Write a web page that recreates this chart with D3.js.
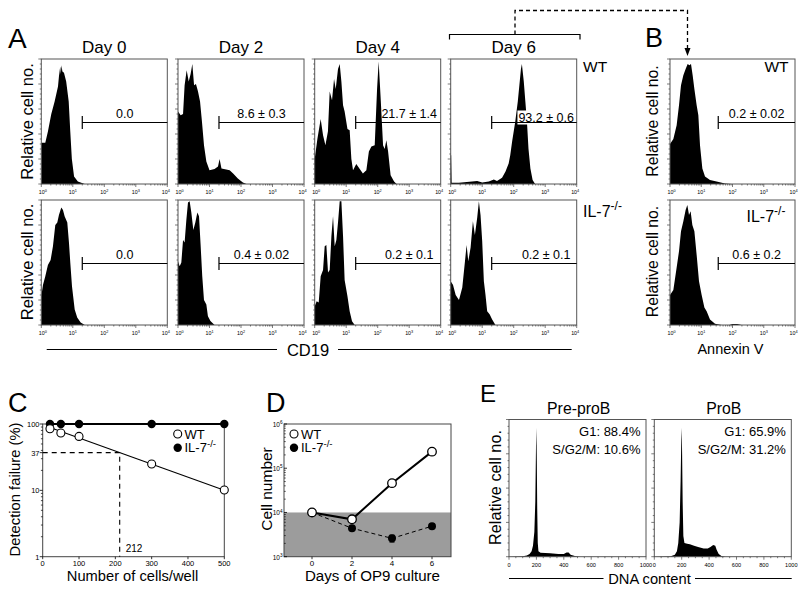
<!DOCTYPE html>
<html><head><meta charset="utf-8">
<script src="https://cdn.jsdelivr.net/npm/d3@7"></script>
<style>
body{margin:0;background:#fff}
svg{display:block}
text{font-family:"Liberation Sans",Arial,Helvetica,sans-serif;fill:#000}
</style>
</head><body>
<svg id="fig" width="800" height="591"></svg>
<script>
// ================= DATA =================
const cd19Days = ["Day 0", "Day 2", "Day 4", "Day 6"];
const cd19WtGates = ["0.0", "8.6 \u00b1 0.3", "21.7 \u00b1 1.4", "93.2 \u00b1 0.6"];
const cd19KoGates = ["0.0", "0.4 \u00b1 0.02", "0.2 \u00b1 0.1", "0.2 \u00b1 0.1"];
const annexinGates = ["0.2 \u00b1 0.02", "0.6 \u00b1 0.2"];
const cd19GateStart = 20;
const annexinGateStart = 35;
const logTicks = [1, 10, 100, 1000, 10000];

// Histograms: [log10 fluorescence, relative cell no. (% of max)]
const cd19WtDay0 = [[0,33],[0.127,33],[0.21,42],[0.317,56],[0.423,66],[0.53,78],[0.56,86],[0.6,94],[0.62,88],[0.64,95],[0.67,90],[0.72,89],[0.79,82],[0.87,66],[0.92,42],[0.97,20],[1.04,6],[1.16,2],[1.38,0]];
const cd19WtDay2 = [[0,58],[0.085,55],[0.16,56],[0.21,79],[0.275,91],[0.34,82],[0.4,88],[0.455,96],[0.51,79],[0.57,80],[0.635,74],[0.7,66],[0.76,50],[0.825,31],[0.9,18],[1.0,11],[1.16,12],[1.27,14],[1.32,20],[1.38,12.5],[1.53,11.7],[1.64,11],[1.75,8.5],[1.9,4.5],[2.06,1.3],[2.17,0]];
const cd19WtDay4 = [[0,20],[0.085,36],[0.19,52],[0.265,39],[0.34,31],[0.42,42],[0.476,74],[0.55,67],[0.614,84],[0.667,76],[0.74,92],[0.794,96],[0.847,82],[0.9,63],[0.95,58],[1.04,44],[1.11,43],[1.164,20],[1.217,11],[1.32,16],[1.43,12],[1.53,8.5],[1.64,11],[1.72,26],[1.8,30],[1.905,31],[1.98,76],[2.03,98],[2.095,68],[2.17,31],[2.22,28],[2.275,35],[2.33,26],[2.41,7],[2.52,2],[2.6,0]];
const cd19WtDay6 = [[0,23],[0.015,23],[0.03,1],[0.26,1],[0.68,2],[0.84,2.4],[1.0,1.3],[1.21,2],[1.37,3.7],[1.47,2.4],[1.63,5],[1.74,10],[1.84,16.5],[1.89,23],[1.95,34],[2.05,50],[2.13,66],[2.18,79],[2.23,92],[2.26,96],[2.32,82],[2.37,66],[2.42,50],[2.47,28],[2.53,12.5],[2.6,3.2],[2.68,0]];
const cd19KoDay0 = [[0,23],[0.053,32],[0.127,39],[0.21,48],[0.296,52],[0.37,63],[0.444,80],[0.508,82],[0.56,88],[0.635,94],[0.688,92],[0.74,87],[0.825,82],[0.878,66],[0.92,50],[0.974,31],[1.06,12.5],[1.14,6],[1.25,2],[1.38,0]];
const cd19KoDay2 = [[0,51],[0.053,47],[0.106,50],[0.16,68],[0.21,66],[0.265,84],[0.317,98],[0.37,99],[0.423,90],[0.487,76],[0.55,82],[0.614,90],[0.667,87],[0.72,63],[0.77,39],[0.825,20],[0.9,16.5],[0.95,7],[1.03,3.2],[1.16,0]];
const cd19KoDay4 = [[0,15],[0.063,19],[0.127,18],[0.19,39],[0.265,44],[0.317,63],[0.37,64],[0.423,42],[0.476,44],[0.53,71],[0.582,87],[0.635,63],[0.688,68],[0.74,82],[0.794,99],[0.847,99],[0.9,71],[0.95,36],[1.04,23],[1.11,11],[1.185,3],[1.27,0]];
const cd19KoDay6 = [[0,35],[0.074,32],[0.158,24],[0.263,20],[0.368,30],[0.453,51],[0.505,64],[0.558,51],[0.632,62],[0.705,83],[0.768,72],[0.842,86],[0.895,99],[0.947,88],[1.0,67],[1.053,35],[1.105,24],[1.158,11],[1.24,8.5],[1.316,4.5],[1.42,0]];
const annexinWt = [[0,32],[0.107,36],[0.213,47],[0.288,63],[0.352,79],[0.427,87],[0.5,92],[0.565,96],[0.62,95],[0.672,96],[0.725,87],[0.78,76],[0.853,63],[0.907,55],[0.96,31],[1.035,12.5],[1.12,6],[1.28,3.2],[1.49,2],[1.76,0.5],[1.97,0]];
const annexinKo = [[0,24],[0.107,28],[0.213,46],[0.288,59],[0.352,75],[0.427,83],[0.5,92],[0.555,96],[0.608,88],[0.66,91],[0.715,80],[0.78,75],[0.853,56],[0.928,35],[1.013,24],[1.1,14],[1.173,11],[1.28,4.5],[1.44,1],[1.65,0],[1.9,0],[2.0,0.8],[2.15,0.8],[2.29,0]];

// Panel C: limiting dilution
const cellsPerWell = [20, 50, 100, 300, 500];
const wtFailure = [85, 73, 65, 25, 10.1];
const koFailure = [100, 100, 100, 100, 100];
const wtFitCells = [20, 500];
const wtFitFailure = [88.5, 10];
const precursorCells = 212;
const precursorFailure = 37;
const cXTicks = [0, 100, 200, 300, 400, 500];
const cYTicks = [1, 10, 37, 100];

// Panel D: cell numbers in OP9 culture
const cultureDays = [0, 2, 4, 6];
const wtCellNumber = [10000, 7000, 46000, 237000];
const koCellNumber = [10000, 4400, 2600, 4900];
const koCellError = [0, 350, 450, 0];
const dXTicks = [0, 2, 4, 6];
const dYTicks = [1e3, 1e4, 1e5, 1e6];
const shadedRange = [1e3, 1e4];

// Panel E: DNA content histograms [DNA content, relative cell no. %]
const cellCycleTitles = ["Pre-proB", "ProB"];
const g1Labels = ["G1: 88.4%", "G1: 65.9%"];
const sg2mLabels = ["S/G2/M: 10.6%", "S/G2/M: 31.2%"];
const dnaPreProB = [[0,0],[100,0.4],[130,0.8],[150,2],[165,4],[175,8],[185,18],[192,40],[197,80],[200,94],[203,70],[206,35],[210,10],[215,4],[230,2.8],[300,2.5],[360,2],[400,2],[420,3],[435,3],[450,1.5],[480,0.5],[520,0],[1000,0]];
const dnaProB = [[0,0],[120,0.3],[150,1.5],[165,4],[175,10],[185,25],[192,55],[197,85],[200,94],[203,75],[207,40],[212,15],[220,10],[240,9.5],[260,9],[290,8],[320,7],[360,6],[390,6],[410,7],[430,8.5],[445,8],[455,5],[470,2],[490,0.5],[520,0],[1000,0]];
const eXTicks = [0, 200, 400, 600, 800, 1000];

// ================= LAYOUT =================
const svg = d3.select("#fig");
const aCols = [41.3, 178, 314.7, 450.7], aW = 126;
const aRows = [59, 200], aH = 125;
const bX = 670, bW = 125;
const gateLabelDx = [0, 0, 11, 12];

function txt(g, x, y, s, size, anchor) {
  return g.append("text").attr("x", x).attr("y", y).attr("font-size", size)
    .attr("text-anchor", anchor || "start").text(s);
}
function powText(g, x, y, exp, size, anchor) {
  const t = g.append("text").attr("x", x).attr("y", y).attr("font-size", size)
    .attr("text-anchor", anchor || "middle");
  t.append("tspan").text("10");
  t.append("tspan").attr("font-size", size * 0.72).attr("dy", -size * 0.45).text(exp);
  return t;
}
function koText(g, x, y, size, anchor) {
  const t = g.append("text").attr("x", x).attr("y", y).attr("font-size", size)
    .attr("text-anchor", anchor || "start");
  t.append("tspan").text("IL-7");
  t.append("tspan").attr("font-size", size * 0.75).attr("dy", -size * 0.42).text("-/-");
  return t;
}

function flowHist(x0, y0, w, h, data, gateStart, gateLabel, labelDx, whiteBg) {
  const g = svg.append("g");
  const x = d3.scaleLog().domain([logTicks[0], logTicks[logTicks.length - 1]]).range([x0, x0 + w]);
  const y = d3.scaleLinear().domain([0, 100]).range([y0 + h, y0]);
  g.append("path").datum(data)
    .attr("d", d3.area().x(d => x(Math.pow(10, d[0]))).y0(y(0)).y1(d => y(d[1])))
    .attr("fill", "#000");
  g.append("rect").attr("x", x0).attr("y", y0).attr("width", w).attr("height", h)
    .attr("fill", "none").attr("stroke", "#555").attr("stroke-width", 1);
  const tv = [];
  for (let e = 0; e < 4; e++) for (let m = 1; m < 10; m++) tv.push(m * Math.pow(10, e));
  tv.push(1e4);
  g.selectAll(null).data(tv).join("line")
    .attr("x1", d => x(d)).attr("x2", d => x(d))
    .attr("y1", y0 + h).attr("y2", d => y0 + h + (logTicks.includes(d) ? 3 : 1.5))
    .attr("stroke", "#444").attr("stroke-width", 0.7);
  g.selectAll(null).data(d3.range(0, 101, 4)).join("line")
    .attr("y1", d => y(d)).attr("y2", d => y(d))
    .attr("x1", x0).attr("x2", d => x0 - (d % 20 === 0 ? 3 : 1.5))
    .attr("stroke", "#444").attr("stroke-width", 0.7);
  logTicks.forEach((v, i) => powText(g, x(v) + (i === 0 ? 1.5 : i === 4 ? -1.5 : 0), y0 + h + 10, String(i), 5.3, "middle"));
  const gy = Math.round(y0 + h * 0.5) + 0.5;
  g.append("line").attr("x1", x(gateStart)).attr("x2", x0 + w).attr("y1", gy).attr("y2", gy)
    .attr("stroke", "#000").attr("stroke-width", 1.2);
  g.append("line").attr("x1", x(gateStart)).attr("x2", x(gateStart)).attr("y1", gy - 6.5).attr("y2", gy + 6.5)
    .attr("stroke", "#000").attr("stroke-width", 1.2);
  const cx = (x(gateStart) + x0 + w) / 2 + labelDx;
  if (whiteBg) {
    const t = txt(g, cx, gy - 1, gateLabel, 12.5, "middle");
    const bb = t.node().getBBox();
    g.insert("rect", "text").attr("x", bb.x - 1).attr("y", bb.y).attr("width", bb.width + 2).attr("height", bb.height)
      .attr("fill", "#fff");
  } else {
    txt(g, cx, gy - 4.5, gateLabel, 12.5, "middle");
  }
  return g;
}

// ---------- Panel A ----------
txt(svg, 8, 48, "A", 28);
const wtHists = [cd19WtDay0, cd19WtDay2, cd19WtDay4, cd19WtDay6];
const koHists = [cd19KoDay0, cd19KoDay2, cd19KoDay4, cd19KoDay6];
cd19Days.forEach((d, i) => {
  txt(svg, aCols[i] + aW / 2, 52.5, d, 17, "middle");
  flowHist(aCols[i], aRows[0], aW, aH, wtHists[i], cd19GateStart, cd19WtGates[i], gateLabelDx[i], i === 3);
  flowHist(aCols[i], aRows[1], aW, aH, koHists[i], cd19GateStart, cd19KoGates[i], gateLabelDx[i], false);
});
[121.5, 262].forEach(cy => {
  txt(svg, 0, 0, "Relative cell no.", 16.5, "middle")
    .attr("transform", `translate(32.5,${cy}) rotate(-90)`);
});
txt(svg, 583, 71.5, "WT", 15.5);
koText(svg, 583, 216.5, 16);
svg.append("line").attr("x1", 46.7).attr("x2", 277).attr("y1", 349.5).attr("y2", 349.5).attr("stroke", "#000").attr("stroke-width", 1.2);
svg.append("line").attr("x1", 338).attr("x2", 571.7).attr("y1", 349.5).attr("y2", 349.5).attr("stroke", "#000").attr("stroke-width", 1.2);
txt(svg, 308, 355.5, "CD19", 16.5, "middle");
svg.append("path").attr("d", "M449.5,39.5V34.5H580V39.5").attr("fill", "none").attr("stroke", "#000").attr("stroke-width", 1.2);
svg.append("path").attr("d", "M515,34.5V10.5H687.5V49").attr("fill", "none").attr("stroke", "#000")
  .attr("stroke-width", 1.3).attr("stroke-dasharray", "4,3");
svg.append("path").attr("d", "M684.5,48L690.5,48L687.5,56Z").attr("fill", "#000");

// ---------- Panel B ----------
txt(svg, 645, 47, "B", 27);
flowHist(bX, aRows[0], bW, aH, annexinWt, annexinGateStart, annexinGates[0], 0, false);
flowHist(bX, aRows[1], bW, aH, annexinKo, annexinGateStart, annexinGates[1], 0, false);
txt(svg, 788.5, 72, "WT", 15.5, "end");
koText(svg, 746.5, 221.5, 16);
[121, 261.5].forEach(cy => {
  txt(svg, 0, 0, "Relative cell no.", 15.8, "middle")
    .attr("transform", `translate(657.5,${cy}) rotate(-90)`);
});
txt(svg, 730.5, 354, "Annexin V", 14.5, "middle");

// ---------- Panel C ----------
txt(svg, 8, 411.5, "C", 27);
{
  const g = svg.append("g");
  const x = d3.scaleLinear().domain([0, 500]).range([42.7, 224.3]);
  const y = d3.scaleLog().domain([1, 100]).range([556.7, 424]);
  g.append("rect").attr("x", x(0)).attr("y", y(100)).attr("width", x(500) - x(0)).attr("height", y(1) - y(100))
    .attr("fill", "none").attr("stroke", "#444").attr("stroke-width", 1);
  g.selectAll(null).data(cXTicks).join("line").attr("x1", d => x(d)).attr("x2", d => x(d))
    .attr("y1", y(1)).attr("y2", y(1) + 2.5).attr("stroke", "#000").attr("stroke-width", 0.8);
  cXTicks.forEach(v => txt(g, x(v), 566, String(v), 7.5, "middle"));
  const minors = [2,3,4,5,6,7,8,9,20,30,40,50,60,70,80,90];
  g.selectAll(null).data(minors).join("line").attr("x1", x(0)).attr("x2", x(0) - 1.8)
    .attr("y1", d => y(d)).attr("y2", d => y(d)).attr("stroke", "#000").attr("stroke-width", 0.7);
  g.selectAll(null).data(cYTicks).join("line").attr("x1", x(0)).attr("x2", x(0) - 3)
    .attr("y1", d => y(d)).attr("y2", d => y(d)).attr("stroke", "#000").attr("stroke-width", 0.8);
  cYTicks.forEach(v => txt(g, 39.5, y(v) + 3, String(v), 7.5, "end"));
  g.append("path").attr("d", `M${x(0)},${y(precursorFailure)}H${x(precursorCells)}V${y(1)}`)
    .attr("fill", "none").attr("stroke", "#000").attr("stroke-width", 1.1).attr("stroke-dasharray", "5,4");
  txt(g, x(precursorCells) + 6, 551.5, String(precursorCells), 10);
  g.append("path").datum(cellsPerWell.map((c, i) => [c, koFailure[i]]))
    .attr("d", d3.line().x(d => x(d[0])).y(d => y(d[1]))).attr("stroke", "#000").attr("stroke-width", 1.8).attr("fill", "none");
  g.append("path").datum(wtFitCells.map((c, i) => [c, wtFitFailure[i]]))
    .attr("d", d3.line().x(d => x(d[0])).y(d => y(d[1]))).attr("stroke", "#000").attr("stroke-width", 1.1).attr("fill", "none");
  g.selectAll(null).data(cellsPerWell.map((c, i) => [c, koFailure[i]])).join("circle")
    .attr("cx", d => x(d[0])).attr("cy", d => y(d[1])).attr("r", 4.2).attr("fill", "#000");
  g.selectAll(null).data(cellsPerWell.map((c, i) => [c, wtFailure[i]])).join("circle")
    .attr("cx", d => x(d[0])).attr("cy", d => y(d[1])).attr("r", 4).attr("fill", "#fff").attr("stroke", "#000").attr("stroke-width", 1.1);
  g.append("circle").attr("cx", 177.7).attr("cy", 434).attr("r", 4).attr("fill", "#fff").attr("stroke", "#000").attr("stroke-width", 1.1);
  txt(g, 184.5, 438.5, "WT", 13);
  g.append("circle").attr("cx", 177.7).attr("cy", 447.7).attr("r", 4.2).attr("fill", "#000");
  koText(g, 184.5, 452.3, 13);
  txt(g, 0, 0, "Detection failure (%)", 14.8, "middle").attr("transform", "translate(19.5,489.5) rotate(-90)");
  txt(g, 132.5, 581, "Number of cells/well", 14.7, "middle");
}

// ---------- Panel D ----------
txt(svg, 266, 412, "D", 27);
{
  const g = svg.append("g");
  const x = d3.scaleLinear().domain([-1.4, 6.95]).range([284, 451]);
  const y = d3.scaleLog().domain([1e3, 1e6]).range([556.7, 424]);
  g.append("rect").attr("x", x(-1.4)).attr("width", x(6.95) - x(-1.4))
    .attr("y", y(shadedRange[1])).attr("height", y(shadedRange[0]) - y(shadedRange[1])).attr("fill", "#9c9c9c");
  g.append("rect").attr("x", x(-1.4)).attr("y", y(1e6)).attr("width", x(6.95) - x(-1.4)).attr("height", y(1e3) - y(1e6))
    .attr("fill", "none").attr("stroke", "#444").attr("stroke-width", 1);
  g.selectAll(null).data(dXTicks).join("line").attr("x1", d => x(d)).attr("x2", d => x(d))
    .attr("y1", y(1e3)).attr("y2", y(1e3) + 2.5).attr("stroke", "#000").attr("stroke-width", 0.8);
  dXTicks.forEach(v => txt(g, x(v), 566, String(v), 8, "middle"));
  const minors = [];
  for (let e = 3; e < 6; e++) for (let m = 2; m < 10; m++) minors.push(m * Math.pow(10, e));
  g.selectAll(null).data(minors).join("line").attr("x1", 284).attr("x2", 285.8)
    .attr("y1", d => y(d)).attr("y2", d => y(d)).attr("stroke", "#000").attr("stroke-width", 0.6);
  g.selectAll(null).data(dYTicks).join("line").attr("x1", 284).attr("x2", 287)
    .attr("y1", d => y(d)).attr("y2", d => y(d)).attr("stroke", "#000").attr("stroke-width", 0.8);
  dYTicks.forEach(v => powText(g, 282.5, y(v) + 3, String(Math.round(Math.log10(v))), 6.5, "end"));
  g.append("path").datum(cultureDays.map((d, i) => [d, koCellNumber[i]]))
    .attr("d", d3.line().x(d => x(d[0])).y(d => y(d[1]))).attr("stroke", "#000").attr("stroke-width", 1)
    .attr("stroke-dasharray", "4,3").attr("fill", "none");
  g.append("path").datum(cultureDays.map((d, i) => [d, wtCellNumber[i]]))
    .attr("d", d3.line().x(d => x(d[0])).y(d => y(d[1]))).attr("stroke", "#000").attr("stroke-width", 2).attr("fill", "none");
  cultureDays.forEach((d, i) => {
    if (koCellError[i] > 0) {
      g.append("line").attr("x1", x(d)).attr("x2", x(d))
        .attr("y1", y(koCellNumber[i] - koCellError[i])).attr("y2", y(koCellNumber[i] + koCellError[i]))
        .attr("stroke", "#000").attr("stroke-width", 1.2);
      [koCellNumber[i] - koCellError[i], koCellNumber[i] + koCellError[i]].forEach(v =>
        g.append("line").attr("x1", x(d) - 2.5).attr("x2", x(d) + 2.5).attr("y1", y(v)).attr("y2", y(v))
          .attr("stroke", "#000").attr("stroke-width", 1.2));
    }
  });
  g.selectAll(null).data(cultureDays.map((d, i) => [d, koCellNumber[i]])).join("circle")
    .attr("cx", d => x(d[0])).attr("cy", d => y(d[1])).attr("r", 4).attr("fill", "#000");
  g.selectAll(null).data(cultureDays.map((d, i) => [d, wtCellNumber[i]])).join("circle")
    .attr("cx", d => x(d[0])).attr("cy", d => y(d[1])).attr("r", 4.3).attr("fill", "#fff").attr("stroke", "#000").attr("stroke-width", 1.3);
  g.append("circle").attr("cx", 294).attr("cy", 434).attr("r", 4).attr("fill", "#fff").attr("stroke", "#000").attr("stroke-width", 1.1);
  txt(g, 301, 438.5, "WT", 13);
  g.append("circle").attr("cx", 294).attr("cy", 447.7).attr("r", 4.2).attr("fill", "#000");
  koText(g, 301, 452.3, 13);
  txt(g, 0, 0, "Cell number", 15.5, "middle").attr("transform", "translate(271.5,489) rotate(-90)");
  txt(g, 372.5, 581, "Days of OP9 culture", 15.1, "middle");
}

// ---------- Panel E ----------
txt(svg, 480, 402, "E", 24);
{
  const eCols = [509, 654.3], eW = 137, eY = 419.5, eH = 137.2;
  const hists = [dnaPreProB, dnaProB];
  const titleX = [578.7, 723.8];
  eCols.forEach((x0, i) => {
    const g = svg.append("g");
    const x = d3.scaleLinear().domain([0, 1000]).range([x0, x0 + eW]);
    const y = d3.scaleLinear().domain([0, 100]).range([eY + eH, eY]);
    g.append("path").datum(hists[i]).attr("d", d3.area().x(d => x(d[0])).y0(y(0)).y1(d => y(d[1]))).attr("fill", "#000");
    g.append("rect").attr("x", x0).attr("y", eY).attr("width", eW).attr("height", eH)
      .attr("fill", "none").attr("stroke", "#555").attr("stroke-width", 1);
    g.selectAll(null).data(d3.range(0, 1001, 50)).join("line").attr("x1", d => x(d)).attr("x2", d => x(d))
      .attr("y1", eY + eH).attr("y2", d => eY + eH + (d % 200 === 0 ? 3 : 1.5)).attr("stroke", "#444").attr("stroke-width", 0.7);
    g.selectAll(null).data(d3.range(0, 101, 5)).join("line").attr("y1", d => y(d)).attr("y2", d => y(d))
      .attr("x1", x0).attr("x2", d => x0 - (d % 25 === 0 ? 3 : 1.5)).attr("stroke", "#444").attr("stroke-width", 0.7);
    eXTicks.forEach(v => txt(g, x(v), 566.5, String(v), 5.6, "middle"));
    txt(g, titleX[i], 413.5, cellCycleTitles[i], 15.8, "middle");
    txt(g, x0 + eW - 5.5, 436, g1Labels[i], 13, "end");
    txt(g, x0 + eW - 5.5, 454, sg2mLabels[i], 13, "end");
  });
  txt(svg, 0, 0, "Relative cell no.", 16.3, "middle").attr("transform", "translate(501,487.5) rotate(-90)");
  svg.append("line").attr("x1", 509).attr("x2", 603.5).attr("y1", 578.5).attr("y2", 578.5).attr("stroke", "#000").attr("stroke-width", 1.1);
  svg.append("line").attr("x1", 695).attr("x2", 791.7).attr("y1", 578.5).attr("y2", 578.5).attr("stroke", "#000").attr("stroke-width", 1.1);
  txt(svg, 649.5, 583.5, "DNA content", 14.7, "middle");
}
</script>
</body></html>
